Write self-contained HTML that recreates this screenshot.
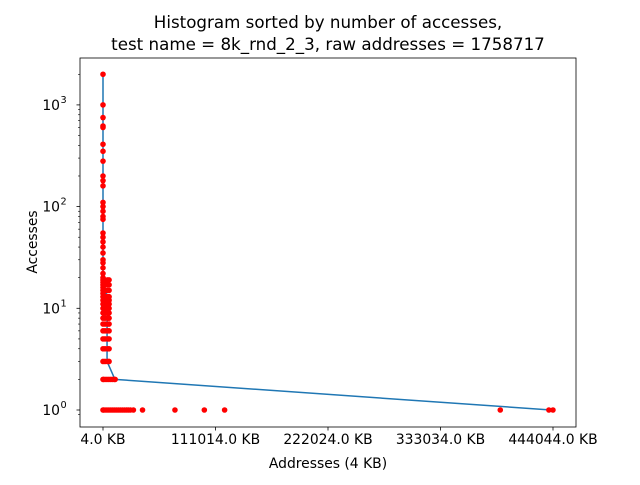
<!DOCTYPE html>
<html><head><meta charset="utf-8"><style>
body{margin:0;background:#fff}
svg text{font-family:"DejaVu Sans","Liberation Sans",sans-serif;fill:#000}
</style></head><body>
<svg id="chart" width="640" height="480" xmlns="http://www.w3.org/2000/svg">
<rect width="640" height="480" fill="#fff"/>
<text x="328" y="28" font-size="16.7" text-anchor="middle">Histogram sorted by number of accesses,</text>
<text x="328" y="50" font-size="16.7" text-anchor="middle">test name = 8k_rnd_2_3, raw addresses = 1758717</text>
<g id="plot"></g>
<g id="axes"></g>
<text x="328" y="468" font-size="13.9" text-anchor="middle">Addresses (4 KB)</text>
<text x="0" y="0" font-size="13.9" text-anchor="middle" transform="translate(37,242) rotate(-90)">Accesses</text>
</svg>
<script>
const xTickValues=[4,111014,222024,333034,444044];
const xTickLabels=["4.0 KB","111014.0 KB","222024.0 KB","333034.0 KB","444044.0 KB"];
const yTickExps=[0,1,2,3];
const colY=[2000,1000,750,620,600,410,350,280,200,180,160,110,100,90,80,75,55,50,45,40,35,30,28,25,22,20,19,18,17,16,15,14,13,12,11,10,9,8,7,6,5,4,3,2,1];
const spreadY=[19,17,15,13,12,11,10,9,8,7,6,5,4,3];
const spreadX=[2000,4500,6000];
const twoX=[1000,3000,5000,7000,9000,11000,12000];
const oneX=[1000,3000,5000,7000,9000,11000,13000,15000,17000,19000,21000,23000,25000,27000,30000,39000,71000,100000,120000,392000,440000,444000];
const lineX=[4,4,4000,1000,5000,1500,4500,4000,4000,11800,442000];
const lineY=[2000,20,19,16,15,13,12,11,3,2,1];

const L=80,R=576,T=58,B=427;
function xs(v){return 103+(v-4)/111010*112.5;}
function ys(v){return 410-Math.log10(v)*101.7;}
const NS="http://www.w3.org/2000/svg";
const plot=document.getElementById('plot'),axes=document.getElementById('axes');
function mk(tag,attrs,parent){const e=document.createElementNS(NS,tag);for(const k in attrs)e.setAttribute(k,attrs[k]);parent.appendChild(e);return e;}

// line
let d=lineX.map((x,i)=>(i?'L':'M')+xs(x).toFixed(2)+' '+ys(lineY[i]).toFixed(2)).join(' ');
const ln=mk('path',{d:d,fill:'none',stroke:'#1f77b4','stroke-width':1.5},plot);



// points
const pts=[];
colY.forEach(y=>pts.push([4,y]));
spreadY.forEach(y=>spreadX.forEach(x=>pts.push([x,y])));
twoX.forEach(x=>pts.push([x,2]));
oneX.forEach(x=>pts.push([x,1]));
pts.forEach(p=>{
  const c=mk('circle',{cx:xs(p[0]).toFixed(2),cy:ys(p[1]).toFixed(2),r:2.8,fill:'#ff0000'},plot);
  
  
});

// frame
const fr=mk('rect',{x:L,y:T,width:R-L,height:B-T,fill:'none',stroke:'#000','stroke-width':0.8},axes);



// x ticks
xTickValues.forEach((v,i)=>{
  const x=xs(v);
  mk('line',{x1:x,x2:x,y1:B,y2:B+3.5,stroke:'#000','stroke-width':0.8},axes);
  const t=mk('text',{x:x,y:B+17,'font-size':13.9,'text-anchor':'middle'},axes);
  t.textContent=xTickLabels[i];
  
  
});
// y ticks
yTickExps.forEach(e=>{
  const y=ys(Math.pow(10,e));
  mk('line',{x1:L-3.5,x2:L,y1:y,y2:y,stroke:'#000','stroke-width':0.8},axes);
  const t=mk('text',{x:L-20,y:y+5,'font-size':13.9,'text-anchor':'end'},axes);
  t.textContent='10';
  
  
  const s=mk('text',{x:L-19.5,y:y-2,'font-size':9.7},axes);
  s.textContent=String(e);
  for(let m=2;m<10;m++){
    const yy=ys(m*Math.pow(10,e));
    if(yy>T&&yy<B) mk('line',{x1:L-2,x2:L,y1:yy,y2:yy,stroke:'#000','stroke-width':0.6},axes);
  }
});
{const yy=ys(0.9);if(yy<B)mk('line',{x1:L-2,x2:L,y1:yy,y2:yy,stroke:'#000','stroke-width':0.6},axes);}
</script>
</body></html>
